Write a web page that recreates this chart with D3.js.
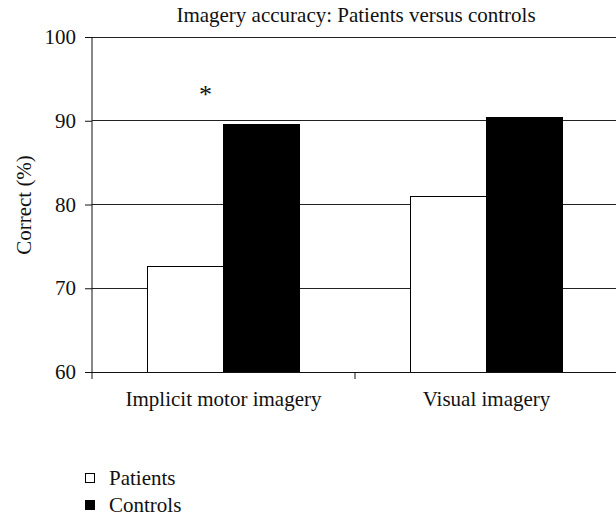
<html>
<head>
<meta charset="utf-8">
<title>Imagery accuracy</title>
<script src="https://cdn.jsdelivr.net/npm/d3@7"></script>
<style>
body { margin: 0; background: #fff; }
svg text { font-family: "Liberation Serif", "Times New Roman", serif !important; fill: #111; }
</style>
</head>
<body>
<div id="chart"></div>
<script>
// data
var categories = ["Implicit motor imagery", "Visual imagery"];
var seriesNames = ["Patients", "Controls"];
var patients = [72.6, 80.9];
var controls = [89.6, 90.4];
var yTicks = [60, 70, 80, 90, 100];
var starMarks = ["*", ""]; // significance per category

var W = 616, H = 516;
var mLeft = 92, mRight = 618, mTop = 37, mBottom = 372;
var FS = "21px";

var svg = d3.select("#chart").append("svg").attr("width", W).attr("height", H)
	.attr("font-family", "Liberation Serif, serif");

var x = d3.scaleBand().domain(categories).range([mLeft, mRight]).padding(0);
var xs = d3.scaleBand().domain(seriesNames).range([0, x.bandwidth()]).paddingInner(0).paddingOuter(0.74);
var y = d3.scaleLinear().domain([60, 100]).range([mBottom, mTop]);

var rows = categories.map(function(c, i) {
	return { cat: c, values: [ { s: "Patients", v: patients[i] }, { s: "Controls", v: controls[i] } ] };
});

// title
svg.append("text").attr("x", 356).attr("y", 22).attr("text-anchor", "middle")
	.style("font-size", FS).text("Imagery accuracy: Patients versus controls");

// gridlines
svg.append("g").selectAll("line").data(yTicks.slice(1)).enter().append("line")
	.attr("x1", mLeft).attr("x2", mRight).attr("y1", function(d) { return y(d); }).attr("y2", function(d) { return y(d); })
	.attr("stroke", "#222").attr("stroke-width", 1).attr("shape-rendering", "crispEdges");

// bars
var groups = svg.append("g").selectAll("g").data(rows).enter().append("g")
	.attr("transform", function(d) { return "translate(" + x(d.cat) + ",0)"; });
groups.selectAll("rect").data(function(d) { return d.values; }).enter().append("rect")
	.attr("x", function(d) { return xs(d.s); })
	.attr("width", xs.bandwidth())
	.attr("y", function(d) { return y(d.v); })
	.attr("height", function(d) { return y(60) - y(d.v); })
	.attr("fill", function(d) { return d.s == "Patients" ? "#fff" : "#000"; })
	.attr("stroke", "#000").attr("stroke-width", 1).attr("shape-rendering", "crispEdges");

// y axis
var yAxis = svg.append("g").attr("transform", "translate(" + mLeft + ",0)")
	.call(d3.axisLeft(y).tickValues(yTicks).tickSize(7).tickPadding(9));
yAxis.attr("font-family", null).attr("font-size", null);
yAxis.select(".domain").attr("d", "M0," + mTop + "V" + (mBottom + 7)).attr("stroke", "#111");
yAxis.selectAll("line").attr("stroke", "#111");
yAxis.selectAll("text").style("font-size", FS).attr("fill", "#111");

// x axis: ticks between categories, labels centred under groups
var xAxis = svg.append("g").attr("transform", "translate(0," + mBottom + ")");
xAxis.append("line").attr("x1", mLeft).attr("x2", mRight).attr("stroke", "#111").attr("shape-rendering", "crispEdges");
xAxis.selectAll("line.tk").data(categories.slice(1)).enter().append("line").attr("class", "tk")
	.attr("x1", function(d) { return x(d); }).attr("x2", function(d) { return x(d); })
	.attr("y1", 0).attr("y2", 7).attr("stroke", "#111");
xAxis.selectAll("text").data(categories).enter().append("text")
	.attr("x", function(d) { return x(d) + x.bandwidth() / 2; }).attr("y", 34)
	.attr("text-anchor", "middle").style("font-size", FS).text(function(d) { return d; });

// significance star
svg.selectAll("text.star").data(categories.filter(function(c, i) { return starMarks[i]; })).enter()
	.append("text").attr("class", "star")
	.attr("x", function(d) { return x(d) + x.bandwidth() / 2 - 18; })
	.attr("y", y(92.1)).attr("text-anchor", "middle").style("font-size", "26px").text("*");

// y label
svg.append("text").attr("transform", "translate(31," + 205 + ") rotate(-90)")
	.attr("text-anchor", "middle").style("font-size", FS).text("Correct (%)");

// legend
var legend = svg.append("g").selectAll("g").data(seriesNames).enter().append("g")
	.attr("transform", function(d, i) { return "translate(85," + (485 + i * 27) + ")"; });
legend.append("rect").attr("x", 0.5).attr("y", -11.5).attr("width", 9).attr("height", 9)
	.attr("fill", function(d) { return d == "Patients" ? "#fff" : "#000"; })
	.attr("stroke", "#000").attr("stroke-width", 1);
legend.append("text").attr("x", 24).attr("y", 0).style("font-size", FS).text(function(d) { return d; });
</script>
</body>
</html>
